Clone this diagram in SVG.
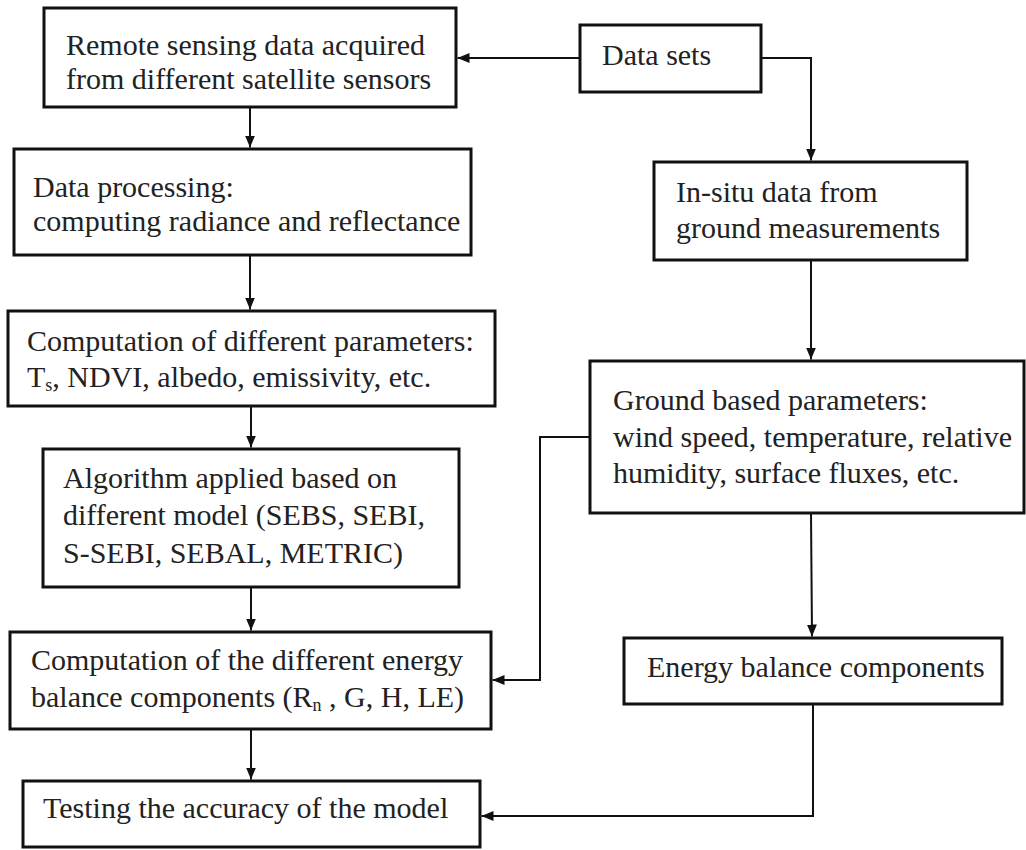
<svg xmlns="http://www.w3.org/2000/svg" width="1026" height="850" viewBox="0 0 1026 850">
<defs>
<marker id="ah" markerWidth="12" markerHeight="10" refX="12" refY="5" orient="auto" markerUnits="userSpaceOnUse">
<path d="M0,0 L12,5 L0,10 Z" fill="#111"/>
</marker>
<style>
.box{fill:#fff;stroke:#111;stroke-width:3}
.t{font-family:"Liberation Serif","Times New Roman",serif;font-size:30px;fill:#222}
.sub{font-size:18px}
.c{fill:none;stroke:#111;stroke-width:2}
</style>
</defs>
<rect width="1026" height="850" fill="#fff"/>
<g id="n-remote"><rect class="box" x="44" y="8" width="412" height="99"/>
<text class="t" x="66" y="55">Remote sensing data acquired</text>
<text class="t" x="66" y="89">from different satellite sensors</text></g>
<g id="n-processing"><rect class="box" x="14" y="149" width="457" height="106"/>
<text class="t" x="33" y="197">Data processing:</text>
<text class="t" x="33" y="231">computing radiance and reflectance</text></g>
<g id="n-params"><rect class="box" x="8" y="311" width="487" height="95"/>
<text class="t" x="27" y="351">Computation of different parameters:</text>
<text class="t" x="27" y="387">T<tspan class="sub" dy="4">s</tspan><tspan dy="-4">, NDVI, albedo, emissivity, etc.</tspan></text></g>
<g id="n-algorithm"><rect class="box" x="43" y="449" width="416" height="138"/>
<text class="t" x="63" y="488">Algorithm applied based on</text>
<text class="t" x="63" y="525">different model (SEBS, SEBI,</text>
<text class="t" x="63" y="563">S-SEBI, SEBAL, METRIC)</text></g>
<g id="n-energy-comp"><rect class="box" x="10" y="632" width="481" height="97"/>
<text class="t" x="31" y="670">Computation of the different energy</text>
<text class="t" x="31" y="707">balance components (R<tspan class="sub" dy="4">n</tspan><tspan dy="-4"> , G, H, LE)</tspan></text></g>
<g id="n-testing"><rect class="box" x="23" y="781" width="457" height="66"/>
<text class="t" x="43" y="818">Testing the accuracy of the model</text></g>
<g id="n-datasets"><rect class="box" x="580" y="25" width="181" height="67"/>
<text class="t" x="602" y="65">Data sets</text></g>
<g id="n-insitu"><rect class="box" x="654" y="162" width="313" height="98"/>
<text class="t" x="676" y="202">In-situ data from</text>
<text class="t" x="676" y="238">ground measurements</text></g>
<g id="n-ground"><rect class="box" x="590" y="361" width="434" height="152"/>
<text class="t" x="613" y="410">Ground based parameters:</text>
<text class="t" x="613" y="447">wind speed, temperature, relative</text>
<text class="t" x="613" y="483">humidity, surface fluxes, etc.</text></g>
<g id="n-energy-bal"><rect class="box" x="624" y="638" width="378" height="66"/>
<text class="t" x="647" y="677">Energy balance components</text></g>
<g id="connectors">
<path class="c" d="M580,58 L457.5,58" marker-end="url(#ah)"/>
<path class="c" d="M761,58 L811,58 L811,160.5" marker-end="url(#ah)"/>
<path class="c" d="M250,107 L250,147.5" marker-end="url(#ah)"/>
<path class="c" d="M250,255 L250,309.5" marker-end="url(#ah)"/>
<path class="c" d="M251,406 L251,447.5" marker-end="url(#ah)"/>
<path class="c" d="M251,587 L251,630.5" marker-end="url(#ah)"/>
<path class="c" d="M251,729 L251,779.5" marker-end="url(#ah)"/>
<path class="c" d="M811,260 L811,359.5" marker-end="url(#ah)"/>
<path class="c" d="M590,437 L540,437 L540,680 L492.5,680" marker-end="url(#ah)"/>
<path class="c" d="M811,513 L812,636.5" marker-end="url(#ah)"/>
<path class="c" d="M813,704 L813,816 L481.5,816" marker-end="url(#ah)"/>
</g>
</svg>
